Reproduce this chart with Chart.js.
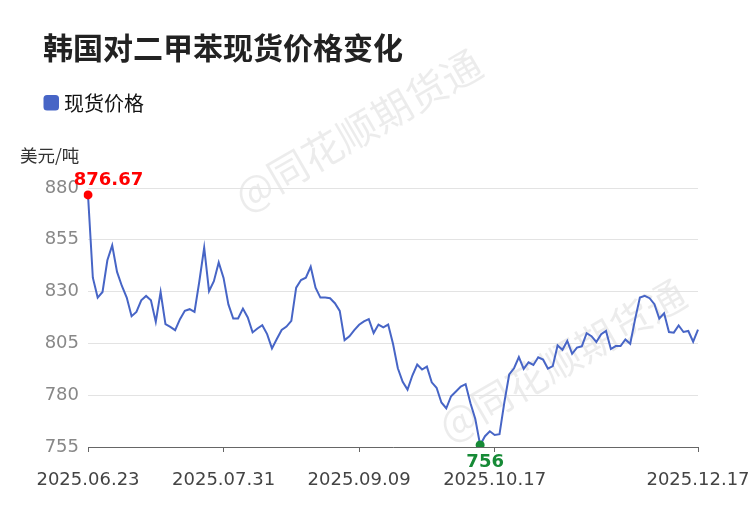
<!DOCTYPE html>
<html><head><meta charset="utf-8">
<script src="https://cdn.jsdelivr.net/npm/chart.js@4.4.1/dist/chart.umd.min.js"></script>
<style>html,body{margin:0;padding:0;background:#fff}</style>
</head><body>
<canvas id="c" width="750" height="510"></canvas>
<script>
const titleText = '韩国对二甲苯现货价格变化';
const seriesName = '现货价格';
const unitText = '美元/吨';
const watermarkText = '@同花顺期货通';

const prices = [
  876.67, 836.7, 827.1, 829.8, 845.1, 852.3, 839.5, 832.7, 827.1, 818.1,
  820.2, 825.8, 827.9, 825.8, 815.4, 829.8, 814.3, 813.0, 811.4, 816.7,
  820.7, 821.5, 820.2, 835.0, 851.2, 830.2, 835.0, 844.1, 836.6, 823.8,
  817.0, 817.0, 821.8, 817.5, 810.3, 812.2, 813.8, 809.5, 802.6, 807.1,
  811.5, 813.1, 815.9, 831.9, 835.6, 836.7, 842.0, 831.9, 827.1, 827.1,
  826.8, 824.4, 820.7, 806.6, 808.4, 811.4, 814.0, 815.6, 816.7, 810.0,
  814.1, 812.7, 814.1, 804.8, 793.0, 786.5, 782.7, 789.5, 794.8, 792.4,
  793.8, 786.2, 783.6, 776.5, 773.7, 779.5, 781.8, 784.2, 785.3, 776.1,
  768.5, 756.0, 760.2, 762.6, 760.8, 761.2, 776.5, 790.0, 793.0, 798.4,
  792.7, 795.9, 794.6, 798.3, 797.2, 792.8, 794.0, 804.0, 801.9, 806.2,
  800.0, 803.0, 803.6, 809.9, 808.5, 805.7, 809.4, 811.0, 802.3, 803.7,
  803.7, 806.9, 804.8, 816.6, 827.1, 828.0, 826.8, 823.9, 817.0, 819.5,
  810.5, 810.2, 813.7, 810.5, 811.0, 805.8, 811.6
];
const tickPositions = [0, 28, 56, 84, 126];
const tickLabels = ['2025.06.23', '2025.07.31', '2025.09.09', '2025.10.17', '2025.12.17'];
const yTicks = [755, 780, 805, 830, 855, 880];

const categories = prices.map((_, i) => {
  const k = tickPositions.indexOf(i);
  return k >= 0 ? tickLabels[k] : '';
});
const maxIdx = prices.indexOf(Math.max(...prices));
const minIdx = prices.indexOf(Math.min(...prices));

const LINE_COLOR = '#4765c6';
const RED = '#ff0000';
const GREEN = '#168a36';
const NUM_FONT = '"DejaVu Sans", sans-serif';
const CJK_FONT = '"Noto Sans CJK SC", "DejaVu Sans", sans-serif';

const decorPlugin = {
  id: 'decor',
  beforeDraw(chart) {
    const ctx = chart.ctx;
    ctx.save();
    ctx.fillStyle = 'rgba(0,0,0,0.075)';
    ctx.font = '40px ' + CJK_FONT;
    ctx.textAlign = 'center';
    ctx.textBaseline = 'middle';
    [[358, 130], [562, 360]].forEach(([x, y]) => {
      ctx.save();
      ctx.translate(x, y);
      ctx.rotate(-30 * Math.PI / 180);
      ctx.fillText(watermarkText, 0, 0);
      ctx.restore();
    });
    ctx.restore();
  },
  afterDraw(chart) {
    const ctx = chart.ctx;
    ctx.save();
    ctx.fillStyle = '#222';
    ctx.font = 'bold 30px ' + CJK_FONT;
    ctx.textAlign = 'left';
    ctx.textBaseline = 'middle';
    ctx.fillText(titleText, 43, 48);
    ctx.fillStyle = LINE_COLOR;
    ctx.beginPath();
    ctx.roundRect(43.5, 95, 15.5, 15.5, 3.5);
    ctx.fill();
    ctx.fillStyle = '#111';
    ctx.font = '20px ' + CJK_FONT;
    ctx.fillText(seriesName, 64, 103);
    ctx.fillStyle = '#333';
    ctx.font = '17.5px ' + CJK_FONT;
    ctx.fillText(unitText, 20, 155);
    const meta = chart.getDatasetMeta(0);
    const pMax = meta.data[maxIdx], pMin = meta.data[minIdx];
    ctx.font = 'bold 18px ' + NUM_FONT;
    ctx.textAlign = 'center';
    ctx.fillStyle = RED;
    ctx.fillText(prices[maxIdx].toFixed(2), pMax.x + 20.5, pMax.y - 15);
    ctx.fillStyle = GREEN;
    ctx.fillText(String(Math.round(prices[minIdx])), pMin.x + 5, pMin.y + 17);
    ctx.restore();
  }
};

new Chart(document.getElementById('c'), {
  type: 'line',
  data: {
    labels: categories,
    datasets: [{
      label: seriesName,
      data: prices,
      borderColor: LINE_COLOR,
      backgroundColor: LINE_COLOR,
      borderWidth: 2,
      tension: 0,
      fill: false,
      pointRadius: c => (c.dataIndex === maxIdx || c.dataIndex === minIdx) ? 4.5 : 0,
      pointHoverRadius: 0,
      pointBorderWidth: 0,
      pointBackgroundColor: c => c.dataIndex === maxIdx ? RED : GREEN
    }]
  },
  options: {
    responsive: false,
    animation: false,
    devicePixelRatio: 1,
    layout: { padding: { left: 0, right: 52, top: 188, bottom: 0 } },
    plugins: { legend: { display: false }, title: { display: false }, tooltip: { enabled: false } },
    scales: {
      x: {
        type: 'category',
        offset: false,
        afterBuildTicks: s => { s.ticks = tickPositions.map(v => ({ value: v })); },
        afterFit: s => { s.height = 63; s.paddingLeft = 0; s.paddingRight = 0; },
        border: { display: true, color: '#666', width: 1 },
        grid: {
          drawOnChartArea: false,
          drawTicks: true,
          tickLength: 5,
          tickColor: '#666'
        },
        ticks: {
          autoSkip: false,
          maxRotation: 0,
          minRotation: 0,
          padding: 18,
          color: '#444',
          font: { family: 'DejaVu Sans', size: 18 },
          callback: (v) => categories[v]
        }
      },
      y: {
        min: yTicks[0],
        max: yTicks[yTicks.length - 1],
        afterFit: s => { s.width = 88; },
        afterBuildTicks: s => { s.ticks = yTicks.map(v => ({ value: v })); },
        border: { display: false },
        grid: { color: '#e3e3e3', lineWidth: 1, drawTicks: false },
        ticks: {
          padding: 9,
          color: '#888',
          font: { family: 'DejaVu Sans', size: 18 }
        }
      }
    }
  },
  plugins: [decorPlugin]
});
</script>
</body></html>
